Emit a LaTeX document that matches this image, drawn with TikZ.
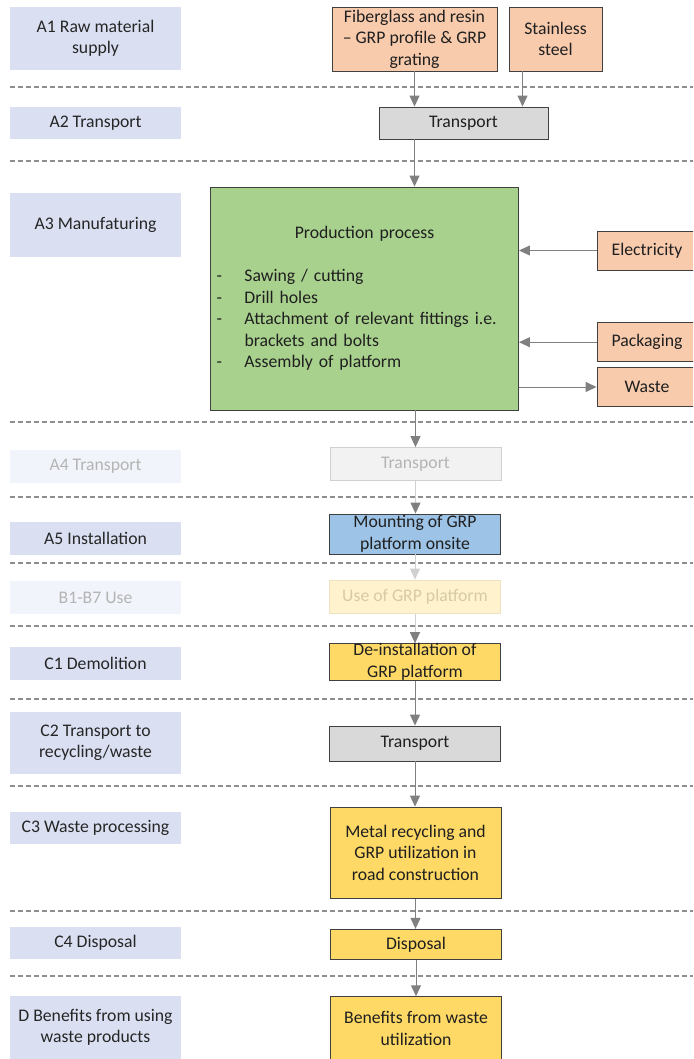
\documentclass[tikz,border=0pt]{standalone}
\usepackage{fontspec}
\setmainfont{Carlito}
\usetikzlibrary{arrows.meta}
\definecolor{stagefill}{HTML}{DAE0F2}
\definecolor{stagefaint}{HTML}{F2F4FB}
\definecolor{orangefill}{HTML}{F8CBAD}
\definecolor{greyfill}{HTML}{D9D9D9}
\definecolor{greenfill}{HTML}{A9D18E}
\definecolor{bluefill}{HTML}{9DC3E6}
\definecolor{yellowfill}{HTML}{FFD966}
\definecolor{usefill}{HTML}{FFF2CC}
\definecolor{useline}{HTML}{EDE3C4}
\definecolor{usetext}{HTML}{D6CBA6}
\definecolor{boxline}{HTML}{404040}
\definecolor{arrowgrey}{HTML}{808080}
\definecolor{lightgrey}{HTML}{D0D0D0}
\definecolor{dashgrey}{HTML}{8E8E8E}
\definecolor{fainttext}{HTML}{B4B4B4}
\begin{document}
\begin{tikzpicture}[x=1pt,y=-1pt,
		font=\fontsize{17.7}{21.5}\selectfont,
		stage/.style={fill=stagefill, text=black!85, minimum width=171pt, align=center, inner sep=1pt},
		stagefade/.style={stage, fill=stagefaint, text=fainttext},
		box/.style={draw=boxline, line width=0.9pt, text=black!88, minimum width=171pt, align=center, inner xsep=2pt, inner ysep=0pt},
		arr/.style={draw=arrowgrey, line width=1pt, -{Triangle[length=11pt,width=10pt]}},
		arrfade/.style={draw=lightgrey, line width=1pt, -{Triangle[length=11pt,width=10pt,color=arrowgrey,fill=arrowgrey]}},
		arrpale/.style={draw=lightgrey, line width=1pt, -{Triangle[length=11pt,width=10pt]}},
		sep/.style={draw=dashgrey, line width=1.3pt, dash pattern=on 5pt off 3pt}]
	\useasboundingbox (0,0) rectangle (693,1059);
	\clip (0,0) rectangle (693,1059);
	\foreach \y in {87,161,422,497,563,626,699,786,911,976}
		\draw[sep] (10,\y) -- (693,\y);
	\node (a1) at (95.5,38.5) [stage, minimum height=63pt] {A1 Raw material\\supply};
	\node (a2) at (95.5,123) [stage, minimum height=32pt] {A2 Transport};
	\node (a3) at (95.5,225) [stage, minimum height=63pt] {A3 Manufaturing};
	\node (a4) at (95.5,466.3) [stagefade, minimum height=33pt] {A4 Transport};
	\node (a5) at (95.5,538) [stage, minimum height=33pt] {A5 Installation};
	\node (b17) at (95.5,597.5) [stagefade, minimum height=33pt] {B1-B7 Use};
	\node (c1) at (95.5,663) [stage, minimum height=33pt] {C1 Demolition};
	\node (c2) at (95.5,743) [stage, minimum height=62pt] {C2 Transport to\\recycling/waste};
	\node (c3) at (95.5,828) [stage, minimum height=32pt] {C3 Waste processing};
	\node (c4) at (95.5,942.7) [stage, minimum height=32pt] {C4 Disposal};
	\node (d) at (95.5,1027.5) [stage, minimum height=63pt] {D Benefits from using\\waste products};
	\node (fibre) at (414.5,39) [box, fill=orangefill, minimum width=165pt, minimum height=64pt] {Fiberglass and resin\\– GRP profile \& GRP\\grating};
	\node (steel) at (555.5,39) [box, fill=orangefill, minimum width=93pt, minimum height=64pt] {Stainless\\steel};
	\node (trans1) at (463.5,123) [box, fill=greyfill, minimum width=169pt, minimum height=32pt] {Transport};
	\node (prod) at (364.5,298.5) [box, fill=greenfill, minimum width=308pt, minimum height=223pt, text width=296pt, inner xsep=6pt, align=left]
		{\makebox[296pt]{Production process}\\[21.5pt]
		\makebox[28pt][l]{-}Sawing / cutting\\
		\makebox[28pt][l]{-}Drill holes\\
		\makebox[28pt][l]{-}Attachment of relevant fittings i.e.\\
		\hspace*{28pt}brackets and bolts\\
		\makebox[28pt][l]{-}Assembly of platform};
	\node (elec) at (647,250.5) [box, fill=orangefill, minimum width=100pt, minimum height=39pt] {Electricity};
	\node (pack) at (647,342.2) [box, fill=orangefill, minimum width=100pt, minimum height=39pt] {Packaging};
	\node (waste) at (647,387) [box, fill=orangefill, minimum width=100pt, minimum height=38.5pt] {Waste};
	\node (trans2) at (415.5,463.8) [box, draw=lightgrey, fill=black!5, text=fainttext, minimum height=32.5pt] {Transport};
	\node (mount) at (415,534) [box, fill=bluefill, minimum height=40pt] {Mounting of GRP\\platform onsite};
	\node (use) at (415,596.7) [box, draw=useline, fill=usefill, text=usetext, minimum height=33.3pt] {Use of GRP platform};
	\node (deinst) at (415,662) [box, fill=yellowfill, minimum height=36pt] {De-installation of\\GRP platform};
	\node (trans3) at (415,743.5) [box, fill=greyfill, minimum height=35pt] {Transport};
	\node (recyc) at (415.5,852.8) [box, fill=yellowfill, minimum height=91.5pt] {Metal recycling and\\GRP utilization in\\road construction};
	\node (disp) at (416,944.3) [box, fill=yellowfill, minimum height=30pt] {Disposal};
	\node (benef) at (416,1028.4) [box, fill=yellowfill, minimum height=63.4pt] {Benefits from waste\\utilization};
	\draw[arr] (fibre.south) -- (fibre.south |- trans1.north);
	\draw[arr] ([xshift=-33pt]steel.south) -- ([xshift=-33pt]steel.south |- trans1.north);
	\draw[arr] (fibre.south |- trans1.south) -- (fibre.south |- prod.north);
	\draw[arr] (elec.west) -- (elec.west -| prod.east);
	\draw[arr] (pack.west) -- (pack.west -| prod.east);
	\draw[arr] (waste.west -| prod.east) -- (waste.west);
	\draw[arr] (trans2.north |- prod.south) -- (trans2.north);
	\draw[arrfade] (trans2.south) -- (trans2.south |- mount.north);
	\draw[arrpale] (mount.south) -- (mount.south |- use.north);
	\draw[arrfade] (use.south) -- (use.south |- deinst.north);
	\draw[arr] (deinst.south) -- (deinst.south |- trans3.north);
	\draw[arr] (trans3.south) -- (trans3.south |- recyc.north);
	\draw[arr] (recyc.south) -- (recyc.south |- disp.north);
	\draw[arr] (disp.south) -- (disp.south |- benef.north);
\end{tikzpicture}
\end{document}
